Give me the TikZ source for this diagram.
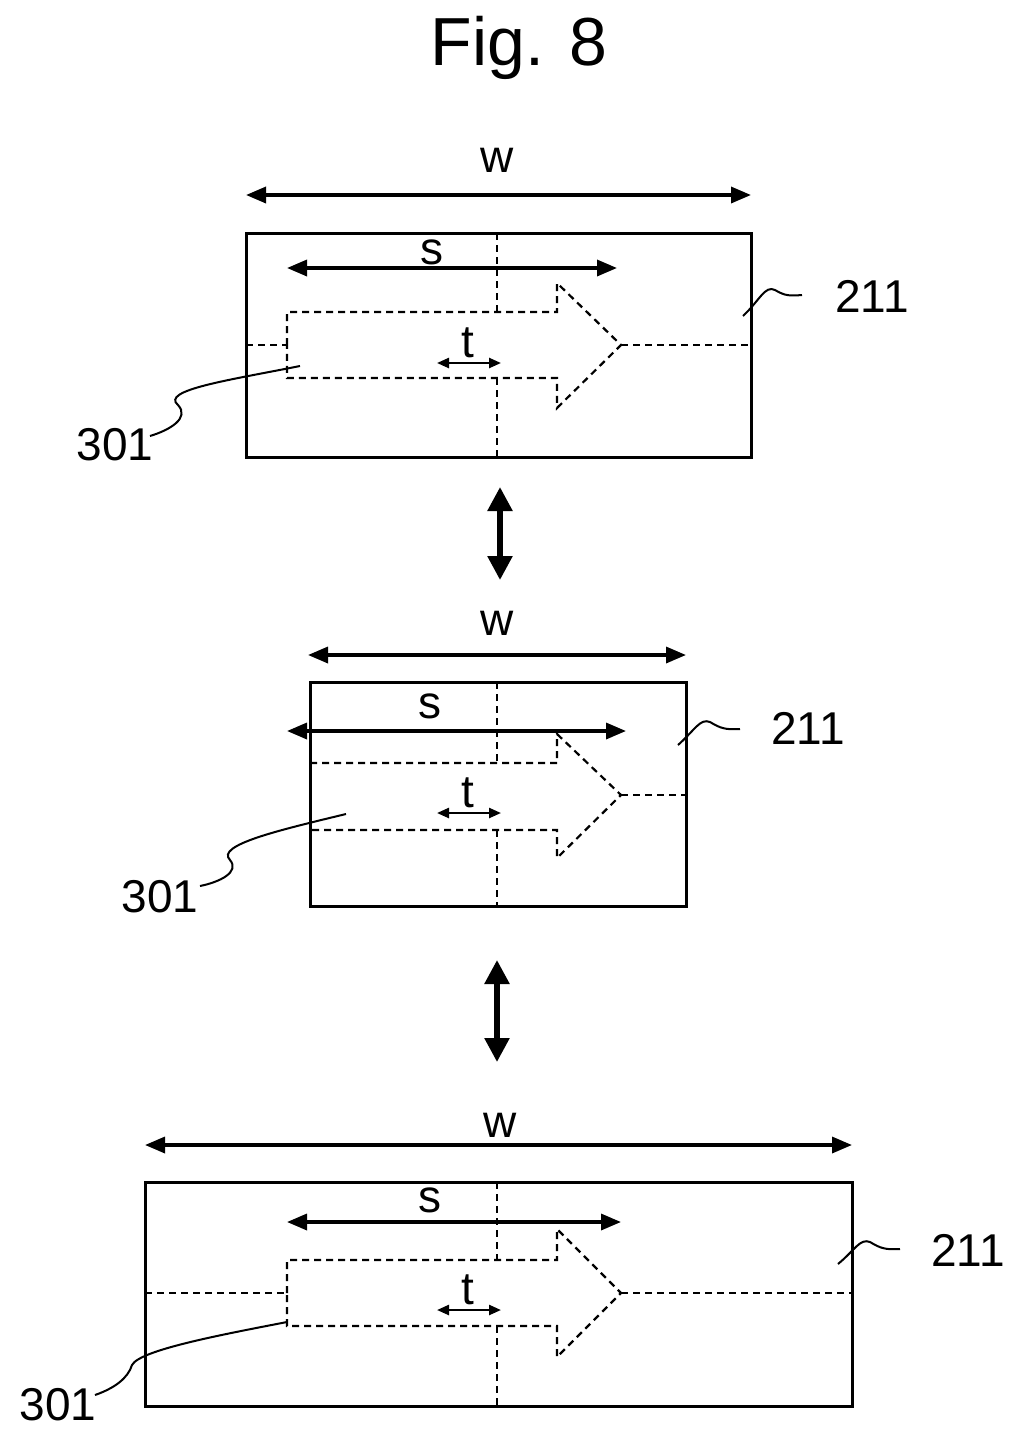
\documentclass[tikz,border=0pt]{standalone}
\usepackage{fontspec}
\setmainfont{Liberation Sans}
\usetikzlibrary{arrows.meta}
\tikzstyle{box}=[-,line width=3]
\tikzstyle{dashline}=[-,dash pattern=on 7pt off 5pt,line width=2.2]
\tikzstyle{dim}=[{Triangle[length=20pt,width=16pt]}-{Triangle[length=20pt,width=16pt]},line width=3.4]
\tikzstyle{small}=[{Triangle[length=12pt,width=10pt]}-{Triangle[length=12pt,width=10pt]},line width=2.4]
\tikzstyle{swap}=[{Triangle[length=24pt,width=24pt]}-{Triangle[length=24pt,width=24pt]},line width=5.5]
\tikzstyle{lead}=[-,line width=2]
\tikzstyle{lbl}=[inner sep=0pt,font=\fontsize{46}{46}\selectfont]
\begin{document}
\begin{tikzpicture}[x=1pt,y=-1pt]
	\useasboundingbox (0,0) rectangle (1022,1446);
	\node [lbl,font=\fontsize{68}{68}\selectfont] (fig) at (519,48) {Fig. 8};
	% upper panel
	\coordinate (ATL) at (246,233); \coordinate (ABR) at (751,457);
	\coordinate (AwL) at (246,195); \coordinate (AwR) at (751,195);
	\coordinate (AsL) at (287,268); \coordinate (AsR) at (617,268);
	\coordinate (AtL) at (437,363); \coordinate (AtR) at (501,363);
	\node [lbl] (Aw) at (497,160) {w};
	\node [lbl] (As) at (432,252) {s};
	\node [lbl] (At) at (468,343) {t};
	\node [lbl] (A301) at (115,445) {301};
	\node [lbl] (A211) at (872,296) {211};
	\draw [style=box] (ATL) rectangle (ABR);
	\draw [style=dim] (AwL) to (AwR);
	\draw [style=dim] (AsL) to (AsR);
	\draw [style=small] (AtL) to (AtR);
	\draw [style=dashline] (497,233) -- (497,312) (497,378) -- (497,457);
	\draw [style=dashline] (246,345) -- (287,345) (621,345) -- (751,345);
	\draw [style=dashline] (287,345) -- (287,312) -- (557,312) -- (557,283) -- (621,345) -- (557,408) -- (557,378) -- (287,378) -- cycle;
	\draw [style=lead] (300,366) .. controls (230,380) and (160,390) .. (178,405) .. controls (190,418) and (170,430) .. (150,436);
	\draw [style=lead] (743,316) .. controls (760,300) and (765,285) .. (775,290) .. controls (785,296) and (790,296) .. (802,295);
	\draw [style=swap] (500,487) to (500,580);
	% middle panel
	\coordinate (BTL) at (310,682); \coordinate (BBR) at (686,906);
	\coordinate (BwL) at (308,655); \coordinate (BwR) at (686,655);
	\coordinate (BsL) at (287,731); \coordinate (BsR) at (626,731);
	\coordinate (BtL) at (437,813); \coordinate (BtR) at (501,813);
	\node [lbl] (Bw) at (497,623) {w};
	\node [lbl] (Bs) at (430,706) {s};
	\node [lbl] (Bt) at (468,793) {t};
	\node [lbl] (B301) at (160,897) {301};
	\node [lbl] (B211) at (808,728) {211};
	\draw [style=box] (BTL) rectangle (BBR);
	\draw [style=dim] (BwL) to (BwR);
	\draw [style=dim] (BsL) to (BsR);
	\draw [style=small] (BtL) to (BtR);
	\draw [style=dashline] (497,682) -- (497,763) (497,830) -- (497,906);
	\draw [style=dashline] (621,795) -- (686,795);
	\draw [style=dashline] (310,763) -- (557,763) -- (557,734) -- (621,795) -- (557,858) -- (557,830) -- (310,830);
	\draw [style=lead] (346,814) .. controls (280,830) and (215,845) .. (230,860) .. controls (240,872) and (220,882) .. (200,886);
	\draw [style=lead] (678,745) .. controls (695,730) and (700,718) .. (710,722) .. controls (720,728) and (725,730) .. (740,729);
	\draw [style=swap] (497,960) to (497,1062);
	% lower panel
	\coordinate (CTL) at (145,1182); \coordinate (CBR) at (852,1406);
	\coordinate (CwL) at (145,1145); \coordinate (CwR) at (852,1145);
	\coordinate (CsL) at (287,1222); \coordinate (CsR) at (621,1222);
	\coordinate (CtL) at (437,1310); \coordinate (CtR) at (501,1310);
	\node [lbl] (Cw) at (500,1125) {w};
	\node [lbl] (Cs) at (430,1200) {s};
	\node [lbl] (Ct) at (468,1290) {t};
	\node [lbl] (C301) at (58,1405) {301};
	\node [lbl] (C211) at (968,1250) {211};
	\draw [style=box] (CTL) rectangle (CBR);
	\draw [style=dim] (CwL) to (CwR);
	\draw [style=dim] (CsL) to (CsR);
	\draw [style=small] (CtL) to (CtR);
	\draw [style=dashline] (497,1182) -- (497,1260) (497,1326) -- (497,1406);
	\draw [style=dashline] (145,1293) -- (287,1293) (621,1293) -- (852,1293);
	\draw [style=dashline] (287,1293) -- (287,1260) -- (557,1260) -- (557,1229) -- (621,1293) -- (557,1357) -- (557,1326) -- (287,1326) -- cycle;
	\draw [style=lead] (287,1322) .. controls (220,1335) and (140,1350) .. (132,1365) .. controls (128,1378) and (115,1388) .. (95,1395);
	\draw [style=lead] (838,1264) .. controls (855,1250) and (860,1238) .. (870,1242) .. controls (880,1248) and (885,1250) .. (900,1249);
\end{tikzpicture}
\end{document}
